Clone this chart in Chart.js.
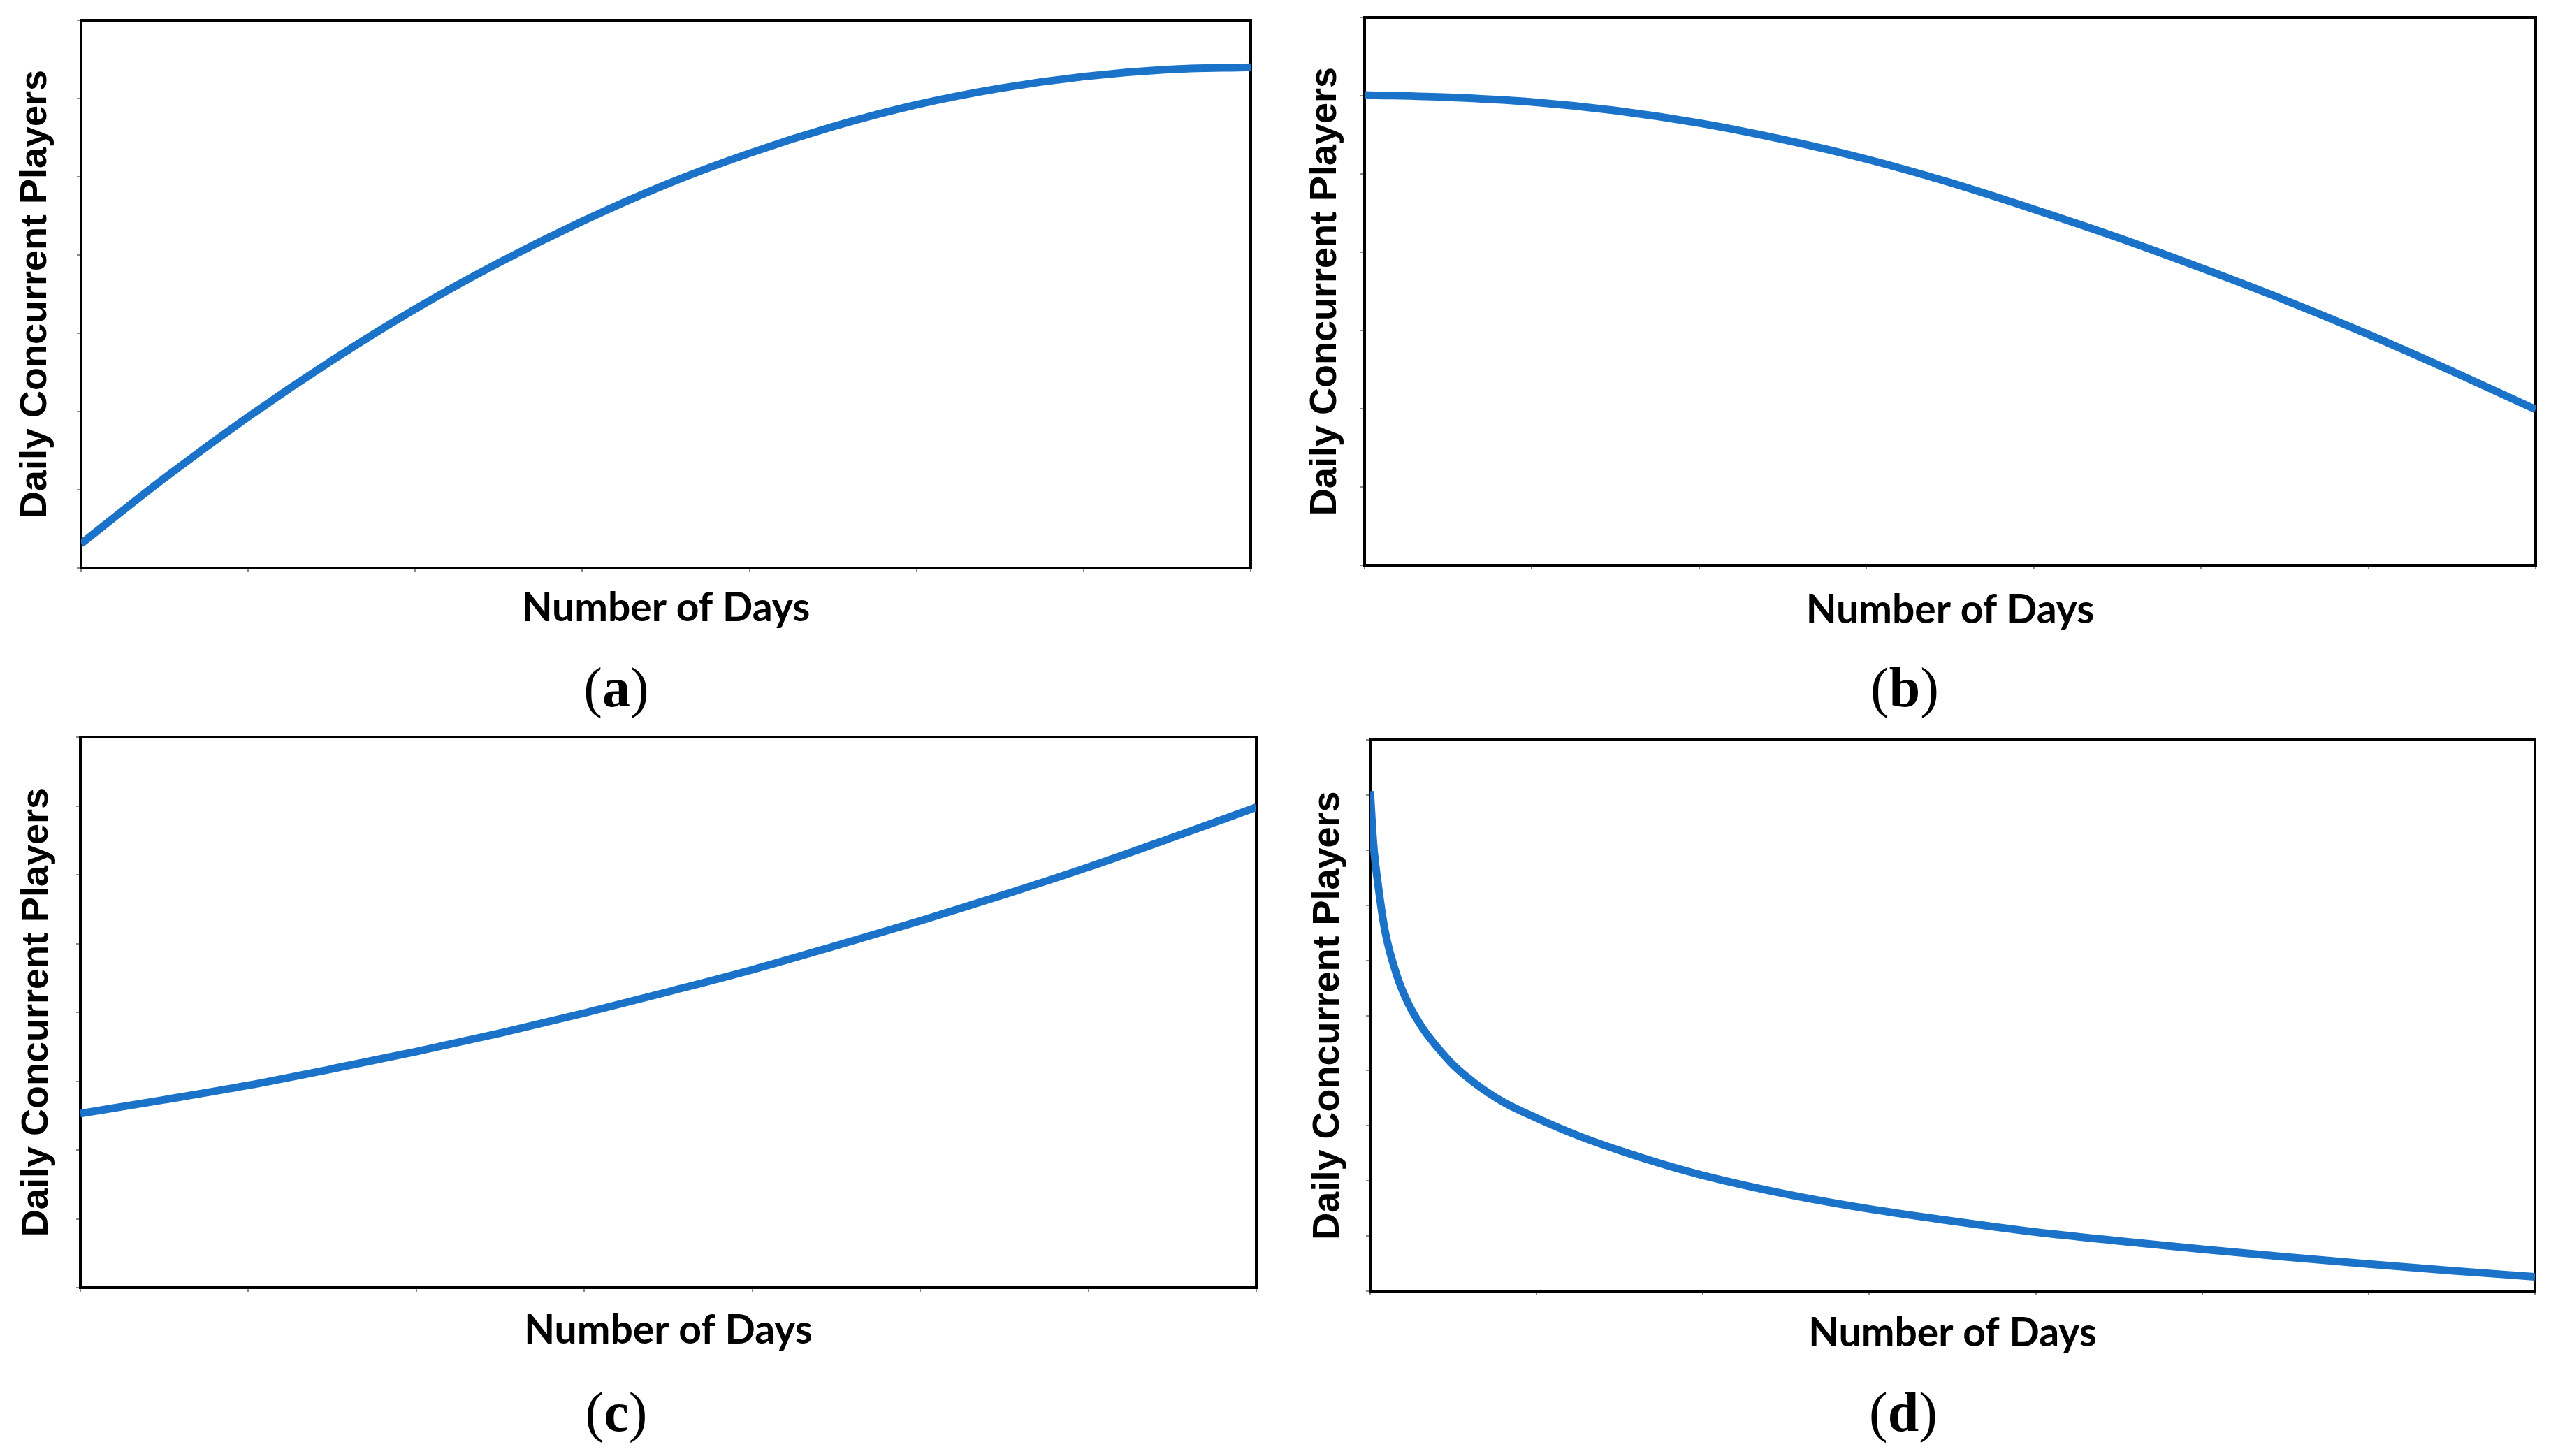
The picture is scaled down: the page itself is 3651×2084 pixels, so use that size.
<!DOCTYPE html>
<html>
<head>
<meta charset="utf-8">
<title>Daily Concurrent Players</title>
<script src="https://cdn.jsdelivr.net/npm/chart.js@4.4.1/dist/chart.umd.min.js"></script>
<style>
  html, body { margin: 0; padding: 0; background: #fff; }
  #page { position: relative; width: 3651px; height: 2084px; overflow: hidden; background: #fff; }
  canvas { position: absolute; }
  .caption {
    position: absolute;
    transform: translate(-50%, -50%);
    font-family: 'Liberation Serif', 'DejaVu Serif', serif;
    font-size: 80px;
    line-height: 1;
    color: #000;
    white-space: nowrap;
  }
</style>
</head>
<body>
<div id="page">
  <canvas id="chartA" width="1830" height="920" style="left:0px;top:0px"></canvas>
  <canvas id="chartB" width="1821" height="920" style="left:1830px;top:0px"></canvas>
  <canvas id="chartC" width="1830" height="1000" style="left:0px;top:960px"></canvas>
  <canvas id="chartD" width="1821" height="1000" style="left:1830px;top:960px"></canvas>

  <div class="caption" style="left:882px;top:984px">(<b>a</b>)</div>
  <div class="caption" style="left:2726px;top:984px">(<b>b</b>)</div>
  <div class="caption" style="left:882px;top:2021px">(<b>c</b>)</div>
  <div class="caption" style="left:2724px;top:2021px">(<b>d</b>)</div>
</div>

<script>
// valores (eixos sem rótulos numéricos, escala = marcas de divisão)
const days = [0, 0.5, 1, 1.5, 2, 2.5, 3, 3.5, 4, 4.5, 5, 5.5, 6, 6.5, 7];
const playersA = [0.31, 1.15, 1.93, 2.65, 3.31, 3.90, 4.43, 4.90, 5.30, 5.64, 5.92, 6.13, 6.28, 6.37, 6.40];
const playersB = [6.01, 5.98, 5.92, 5.81, 5.65, 5.44, 5.19, 4.89, 4.55, 4.19, 3.80, 3.39, 2.95, 2.48, 1.99];
const playersC = [2.53, 2.73, 2.94, 3.18, 3.43, 3.70, 3.99, 4.30, 4.62, 4.97, 5.33, 5.71, 6.11, 6.54, 6.98];

// painel (d) cai muito rápido no início, por isso mais pontos perto de zero
const daysD = [0, 0.02, 0.045, 0.09, 0.16, 0.23, 0.32, 0.41, 0.5, 0.63, 0.8, 1, 1.25, 1.5, 1.75, 2, 2.5, 3, 3.5, 4, 4.5, 5, 5.5, 6, 6.5, 7];
const playersD = [9.07, 8.10, 7.43, 6.52, 5.73, 5.21, 4.75, 4.40, 4.10, 3.77, 3.43, 3.14, 2.82, 2.55, 2.31, 2.10, 1.76, 1.49, 1.27, 1.07, 0.91, 0.76, 0.62, 0.49, 0.37, 0.26];

const xTitle = 'Number of Days';
const yTitle = 'Daily Concurrent Players';

const lineColor = '#1a73c9';

// moldura preta em volta da área do gráfico
const framePlugin = {
    id: 'frame',
    beforeDatasetsDraw(chart) {
        const { ctx, chartArea: a } = chart;
        ctx.save();
        ctx.strokeStyle = '#000';
        ctx.lineWidth = 4;
        ctx.strokeRect(a.left, a.top, a.right - a.left, a.bottom - a.top);
        ctx.restore();
    }
};

/**
 * Cria um painel.
 * @param {string} id - id do canvas
 * @param {number[]} xs - dias
 * @param {number[]} ys - jogadores
 * @param {number} yMax - número de divisões no eixo y
 * @param {object} box - espaços do layout
 */
function makePanel(id, xs, ys, yMax, box) {
    const ctx = document.getElementById(id).getContext('2d');
    return new Chart(ctx, {
        type: 'line',
        data: {
            datasets: [{
                data: xs.map((x, i) => ({ x: x, y: ys[i] })),
                borderColor: lineColor,
                borderWidth: 11,
                pointRadius: 0,
                fill: false,
                cubicInterpolationMode: 'monotone'
            }]
        },
        options: {
            responsive: false,
            animation: false,
            devicePixelRatio: 1,
            layout: {
                padding: { left: 0, top: box.padTop, right: box.padRight, bottom: 0 }
            },
            plugins: {
                legend: { display: false },
                tooltip: { enabled: false }
            },
            scales: {
                x: {
                    type: 'linear',
                    min: 0,
                    max: 7,
                    ticks: { display: false, stepSize: 1 },
                    grid: { drawOnChartArea: false, drawTicks: true, tickLength: 6, color: '#8a8a8a', lineWidth: 2 },
                    border: { display: false },
                    title: {
                        display: true,
                        text: xTitle,
                        color: '#000',
                        font: { family: 'Lato, "Liberation Sans", sans-serif', size: 57, weight: 'bold' },
                        padding: { top: 0, bottom: box.xTitlePad }
                    },
                    afterFit(scale) { scale.height = box.xHeight; }
                },
                y: {
                    type: 'linear',
                    min: 0,
                    max: yMax,
                    ticks: { display: false, stepSize: 1 },
                    grid: { drawOnChartArea: false, drawTicks: true, tickLength: 6, color: '#8a8a8a', lineWidth: 2 },
                    border: { display: false },
                    title: {
                        display: true,
                        text: yTitle,
                        color: '#000',
                        font: { family: '"Liberation Sans", Arial, sans-serif', size: 54, weight: 'bold' },
                        padding: { top: box.yTitlePad, bottom: 0 }
                    },
                    afterFit(scale) { scale.width = box.yWidth; }
                }
            }
        },
        plugins: [framePlugin]
    });
}

document.addEventListener('DOMContentLoaded', () => {
    makePanel('chartA', days, playersA, 7, { padTop: 29, padRight: 40, yWidth: 116, xHeight: 107, xTitlePad: 15, yTitlePad: 19 });
    makePanel('chartB', days, playersB, 7, { padTop: 25, padRight: 22, yWidth: 123, xHeight: 111, xTitlePad: 12, yTitlePad: 35 });
    makePanel('chartC', days, playersC, 8, { padTop: 95, padRight: 32, yWidth: 115, xHeight: 117, xTitlePad: 21, yTitlePad: 21 });
    makePanel('chartD', daysD, playersD, 10, { padTop: 99, padRight: 23, yWidth: 131, xHeight: 112, xTitlePad: 17, yTitlePad: 39 });
});
</script>
</body>
</html>
